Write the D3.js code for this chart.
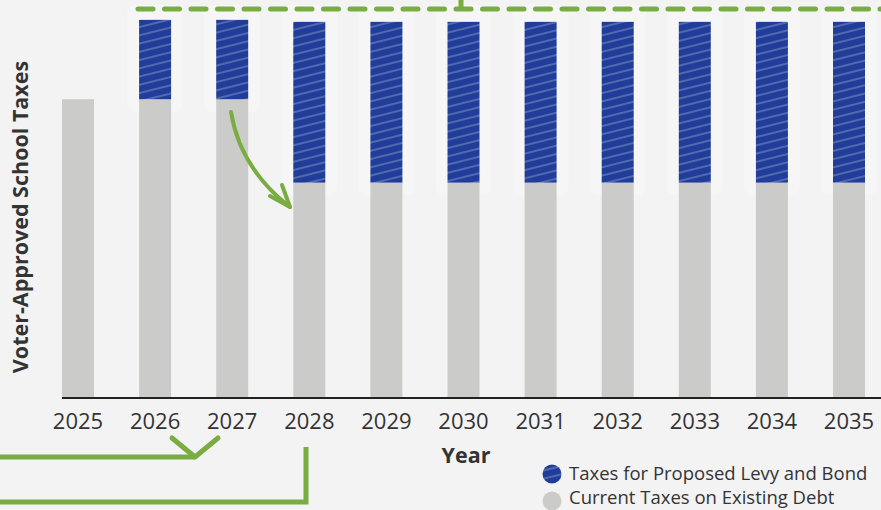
<!DOCTYPE html>
<html>
<head>
<meta charset="utf-8">
<script src="https://cdn.jsdelivr.net/npm/d3@7"></script>
<style>
    html, body { margin: 0; padding: 0; background: #f3f3f3; }
    svg { display: block; font-family: "Open Sans", "Noto Sans", sans-serif; }
</style>
</head>
<body>
<svg id="chart" width="881" height="510"></svg>
<script>
// chart data
const years = ['2025', '2026', '2027', '2028', '2029', '2030', '2031', '2032', '2033', '2034', '2035'];
const currentTaxes = [3.0, 3.0, 3.0, 2.16, 2.16, 2.16, 2.16, 2.16, 2.16, 2.16, 2.16];
const proposedTaxes = [0, 0.8, 0.8, 1.62, 1.62, 1.62, 1.62, 1.62, 1.62, 1.62, 1.62];
const legendLabels = ['Taxes for Proposed Levy and Bond', 'Current Taxes on Existing Debt'];

const width = 881;
const height = 510;
const baseline = 397;

const green = '#7aad41';
const blue = '#1f3d99';
const grey = '#cbcbc9';

const svg = d3.select('#chart');

// hatch pattern for the proposed taxes
const defs = svg.append('defs');
const pattern = defs.append('pattern')
    .attr('id', 'hatch')
    .attr('patternUnits', 'userSpaceOnUse')
    .attr('width', 12)
    .attr('height', 8)
    .attr('patternTransform', 'rotate(-14)');
pattern.append('rect').attr('width', 12).attr('height', 8).attr('fill', blue);
pattern.append('line')
    .attr('x1', 0).attr('x2', 12).attr('y1', 4).attr('y2', 4)
    .attr('stroke', '#fff').attr('stroke-opacity', 0.35).attr('stroke-width', 1.3);

const x = d3.scaleBand()
    .domain(years)
    .range([39.45, 887.55])
    .paddingInner(0.585)
    .paddingOuter(0.2925);

const y = d3.scaleLinear()
    .domain([0, 4])
    .range([baseline, 0]);

const data = years.map((yr, i) => ({ year: yr, current: currentTaxes[i], proposed: proposedTaxes[i] }));

// faint highlight boxes behind the proposed bars
svg.append('g')
    .selectAll('rect')
    .data(data.filter(d => d.proposed > 0))
    .join('rect')
    .attr('x', d => x(d.year) - 12)
    .attr('y', 5)
    .attr('width', x.bandwidth() + 24)
    .attr('height', d => y(d.current) + 13 - 5)
    .attr('rx', 9)
    .attr('fill', '#fff')
    .attr('opacity', 0.3);

// current taxes bars
svg.append('g')
    .selectAll('rect')
    .data(data)
    .join('rect')
    .attr('x', d => x(d.year))
    .attr('y', d => y(d.current))
    .attr('width', x.bandwidth())
    .attr('height', d => y(0) - y(d.current))
    .attr('fill', grey);

// proposed taxes bars
svg.append('g')
    .selectAll('rect')
    .data(data.filter(d => d.proposed > 0))
    .join('rect')
    .attr('x', d => x(d.year))
    .attr('y', d => y(d.current + d.proposed))
    .attr('width', x.bandwidth())
    .attr('height', d => y(d.current) - y(d.current + d.proposed))
    .attr('fill', 'url(#hatch)');

// x axis line and labels
svg.append('line')
    .attr('x1', x(years[0]))
    .attr('x2', x(years[years.length - 1]) + x.bandwidth() + 17)
    .attr('y1', baseline + 1)
    .attr('y2', baseline + 1)
    .attr('stroke', '#222')
    .attr('stroke-width', 2);

const xAxis = svg.append('g')
    .attr('transform', `translate(0,${baseline + 1})`)
    .call(d3.axisBottom(x).tickSize(0).tickPadding(15));
xAxis.select('.domain').remove();
xAxis.selectAll('text')
    .attr('font-family', '"Open Sans", sans-serif')
    .attr('font-size', 22)
    .attr('fill', '#333');

// axis titles
svg.append('text')
    .attr('x', 466)
    .attr('y', 463)
    .attr('text-anchor', 'middle')
    .attr('font-size', 21.5)
    .attr('font-weight', 'bold')
    .attr('fill', '#333')
    .text('Year');

svg.append('text')
    .attr('transform', 'translate(28,217) rotate(-90)')
    .attr('text-anchor', 'middle')
    .attr('font-size', 21.5)
    .attr('font-weight', 'bold')
    .attr('fill', '#333')
    .text('Voter-Approved School Taxes');

// green annotations
const ann = svg.append('g')
    .attr('fill', 'none')
    .attr('stroke', green)
    .attr('stroke-width', 5)
    .attr('stroke-linecap', 'round')
    .attr('stroke-linejoin', 'round');

ann.append('line')
    .attr('x1', 138).attr('x2', 890).attr('y1', 9).attr('y2', 9)
    .attr('stroke-dasharray', '15 11.5');
ann.append('line')
    .attr('x1', 461).attr('x2', 461).attr('y1', -2).attr('y2', 9)
    .attr('stroke-linecap', 'butt');

// arrow from 2027 down to 2028
ann.append('path')
    .attr('stroke-width', 4)
    .attr('d', 'M231,112 Q240,168 290,207');
ann.append('path')
    .attr('stroke-width', 4)
    .attr('d', 'M270,196 L290,207 L282,185');

// bottom connectors
ann.append('path')
    .attr('stroke-linecap', 'butt')
    .attr('d', 'M-5,457 L195,457');
ann.append('path')
    .attr('d', 'M172,438 L195,457 L218,438');
ann.append('path')
    .attr('stroke-linecap', 'butt')
    .attr('stroke-linejoin', 'miter')
    .attr('d', 'M306,447 L306,502 L-5,502');

// legend
const legend = svg.append('g');
const legendFills = ['url(#hatch)', grey];
legendLabels.forEach((label, i) => {
    legend.append('circle')
        .attr('cx', 552)
        .attr('cy', 474 + i * 27)
        .attr('r', 9.5)
        .attr('fill', legendFills[i]);
    legend.append('text')
        .attr('x', 569)
        .attr('y', 480 + i * 24)
        .attr('font-size', 18.5)
        .attr('fill', '#333')
        .text(label);
});
</script>
</body>
</html>
